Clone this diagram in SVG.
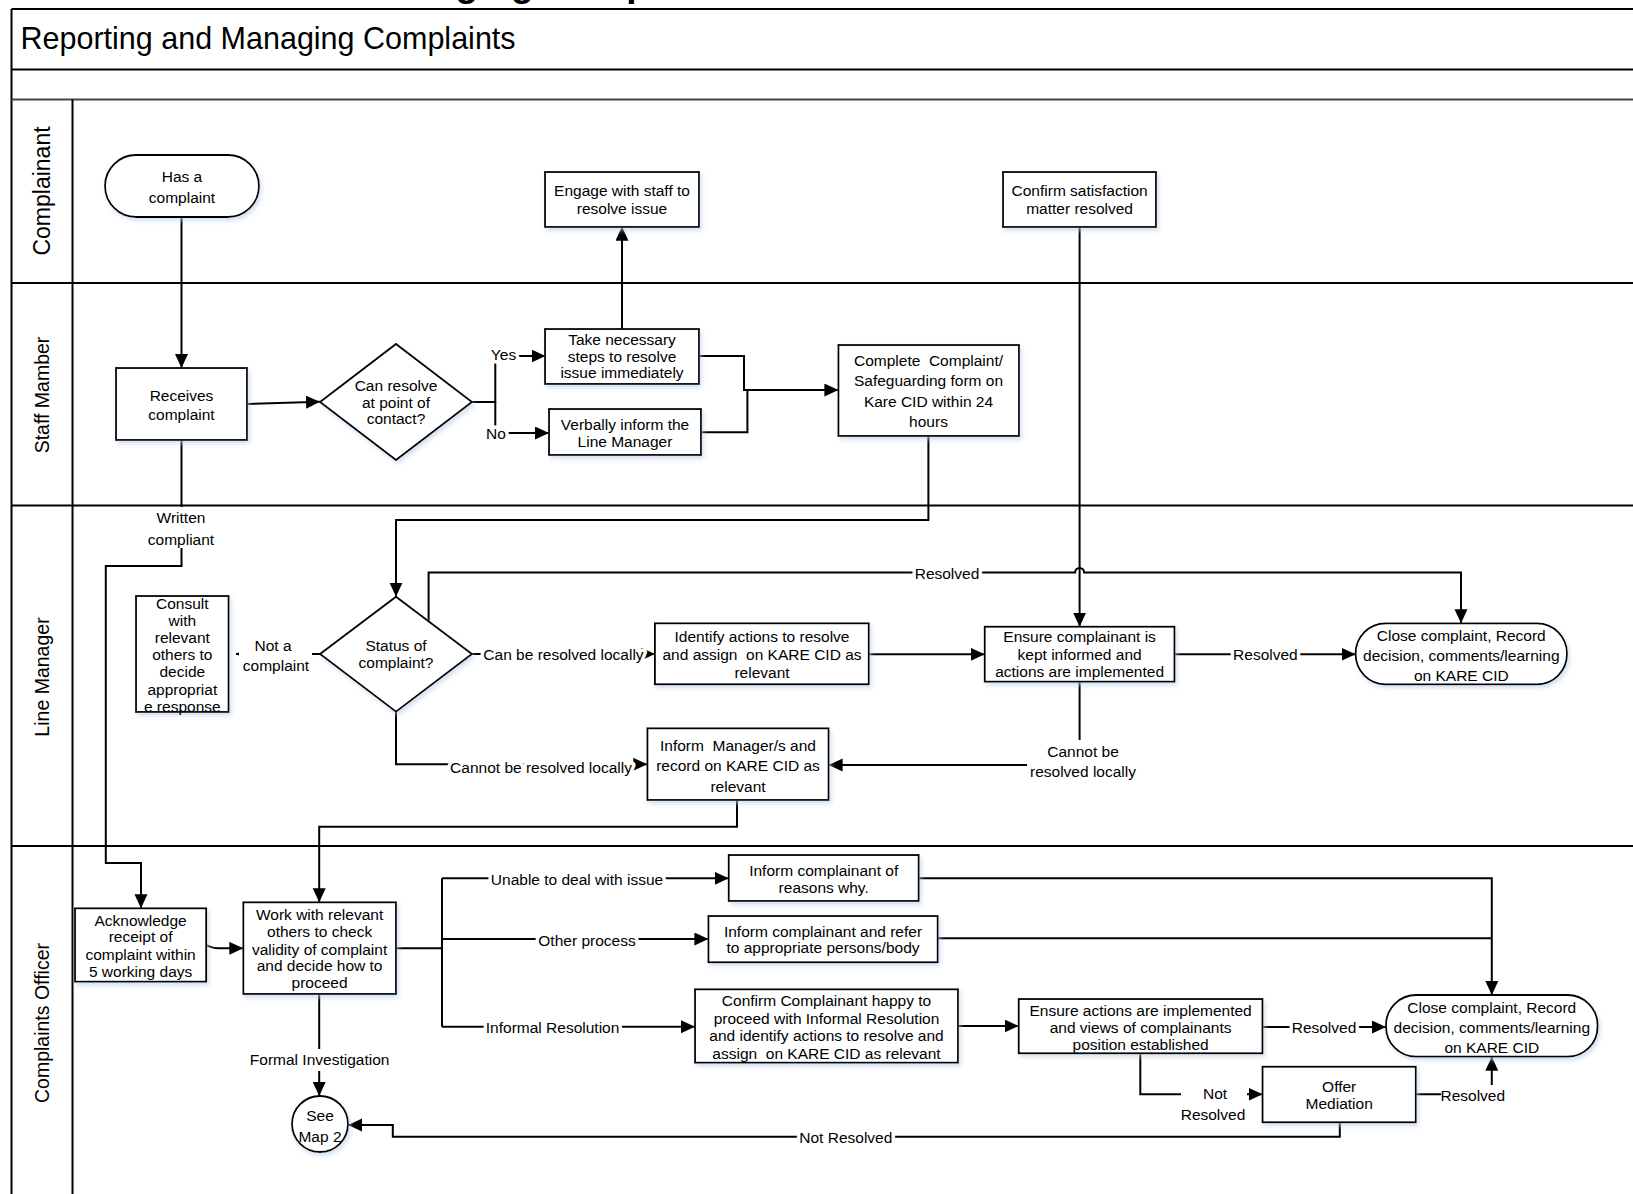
<svg xmlns="http://www.w3.org/2000/svg" width="1633" height="1194" viewBox="0 0 1633 1194">
<defs>
<style>
.n{fill:#fff;stroke:#000;stroke-width:1.8;filter:url(#sh)}
.t{font-family:"Liberation Sans",Arial,sans-serif;font-size:15.5px;text-anchor:middle;dominant-baseline:central;fill:#000}
.lt{font-family:"Liberation Sans",Arial,sans-serif;font-size:19.5px;text-anchor:middle;dominant-baseline:central;fill:#000}
.c{fill:none;stroke:#000;stroke-width:2}
.a{marker-end:url(#arr)}
.h{paint-order:stroke;stroke:#fff;stroke-width:7px;stroke-linejoin:round}
.bg{fill:#fff;stroke:none}
.ln{stroke:#000;stroke-width:2;fill:none}
</style>
<filter id="sh" x="-10%" y="-10%" width="130%" height="140%">
<feDropShadow dx="2" dy="3" stdDeviation="2" flood-color="#b9cde5" flood-opacity="0.6"/>
</filter>
<marker id="arr" markerUnits="userSpaceOnUse" markerWidth="15" markerHeight="14" refX="14" refY="6.5" orient="auto">
<path d="M0,0 L14,6.5 L0,13 z" fill="#000"/>
</marker>
<marker id="arrS" markerUnits="userSpaceOnUse" markerWidth="9" markerHeight="10" refX="8" refY="4.5" orient="auto">
<path d="M0,0 L8,4.5 L0,9 z" fill="#000"/>
</marker>
</defs>
<rect x="0" y="0" width="1633" height="1194" fill="#fff"/>

<text x="361" y="-4.3" style="font-family:'Liberation Sans',Arial,sans-serif;font-size:37px;font-weight:bold">Managing Complaints</text>

<g id="frame">
<line class="ln" x1="11.5" y1="9" x2="1633" y2="9"/>
<line class="ln" x1="11.5" y1="9" x2="11.5" y2="1194"/>
<line class="ln" x1="11.5" y1="69.5" x2="1633" y2="69.5"/>
<line x1="11.5" y1="99.5" x2="1633" y2="99.5" stroke="#444" stroke-width="2.2"/>
<line class="ln" x1="72.5" y1="99.5" x2="72.5" y2="1194"/>
<line class="ln" x1="11.5" y1="283" x2="1633" y2="283"/>
<line class="ln" x1="11.5" y1="505.5" x2="1633" y2="505.5"/>
<line class="ln" x1="11.5" y1="846" x2="1633" y2="846"/>
<text x="20.5" y="49" style="font-family:'Liberation Sans',Arial,sans-serif;font-size:30.5px" fill="#000">Reporting and Managing Complaints</text>
<text class="lt" transform="translate(41.5,191) rotate(-90)" style="font-size:23px">Complainant</text>
<text class="lt" transform="translate(41.5,395) rotate(-90)">Staff Mamber</text>
<text class="lt" transform="translate(42,677) rotate(-90)">Line Manager</text>
<text class="lt" transform="translate(42,1023) rotate(-90)">Complaints Officer</text>
</g>

<g id="connectors">
<path class="c a" d="M181.5,216.7 L181.5,368"/>
<path class="c a" d="M246.6,404 L320,401.7"/>
<path class="c a" d="M472,402 L495.3,402 L495.3,356 L545.5,356"/>
<path class="c a" d="M495.3,402 L495.3,433 L549,433"/>
<path class="c a" d="M622,329 L622,226.7"/>
<path class="c a" d="M698.8,356 L744,356 L744,390 L838.4,390"/>
<path class="c" d="M701.4,432.3 L747.4,432.3 L747.4,390"/>
<path class="c a" d="M928.4,436 L928.4,520 L396,520 L396,596.7"/>
<path class="c a" d="M181.5,440 L181.5,566 L105.8,566 L105.8,863 L141,863 L141,908.3"/>
<path class="c" d="M320,654 L236,654" style="marker-end:url(#arrS)"/>
<path class="c a" d="M472,654 L654.9,654"/>
<path class="c a" d="M1079.6,226.7 L1079.6,626.7"/>
<path class="c a" d="M428.6,621.2 L428.6,572.5 L1075.1,572.5 A4.5,4.5 0 0 1 1084.1,572.5 L1461,572.5 L1461,623.3"/>
<path class="c a" d="M868.8,654.3 L984.7,654.3"/>
<path class="c a" d="M1174.5,654.3 L1355.6,654.3"/>
<path class="c a" d="M1079.6,681.7 L1079.6,765 L828.6,765"/>
<path class="c a" d="M396,711.7 L396,764.3 L647.3,764.3"/>
<path class="c a" d="M737,800 L737,826.7 L319.2,826.7 L319.2,902.3"/>
<path class="c a" d="M206.2,945 Q212,948.3 219,948.3 L243.3,948.3"/>
<path class="c" d="M396,948.3 L442,948.3"/>
<path class="c" d="M442,878.3 L442,1026.7"/>
<path class="c a" d="M442,878.3 L728.7,878.3"/>
<path class="c a" d="M442,939 L708.4,939"/>
<path class="c a" d="M442,1026.7 L695,1026.7"/>
<path class="c a" d="M319.2,994 L319.2,1096"/>
<path class="c a" d="M918.7,878.3 L1491.8,878.3 L1491.8,995"/>
<path class="c" d="M937.7,938.3 L1491.8,938.3"/>
<path class="c a" d="M958,1026 L1018.7,1026"/>
<path class="c a" d="M1262.5,1027 L1386,1027"/>
<path class="c a" d="M1140.3,1053.3 L1140.3,1094.3 L1262.5,1094.3"/>
<path class="c a" d="M1415.8,1094.3 L1491.8,1094.3 L1491.8,1056.7"/>
<path class="c a" d="M1339.8,1122.3 L1339.8,1136.7 L392.8,1136.7 L392.8,1125 L348.2,1125"/>

<text class="t h" x="503.5" y="354.5">Yes</text>
<text class="t h" x="496" y="433">No</text>
<rect class="bg" x="146" y="507" width="71" height="41"/>
<text class="t" x="181" y="517.7">Written</text>
<text class="t" x="181" y="539">compliant</text>
<rect class="bg" x="239" y="635" width="73" height="42"/>
<text class="t" x="273" y="645">Not a</text>
<text class="t" x="276" y="665.7">complaint</text>
<text class="t h" x="563.5" y="654">Can be resolved locally</text>
<text class="t h" x="947" y="573">Resolved</text>
<text class="t h" x="1265.4" y="654.3">Resolved</text>
<rect class="bg" x="1027" y="740" width="112" height="42"/>
<text class="t" x="1083" y="751">Cannot be</text>
<text class="t" x="1083" y="771.7">resolved locally</text>
<text class="t h" x="541" y="767">Cannot be resolved locally</text>
<text class="t h" x="577" y="879">Unable to deal with issue</text>
<text class="t h" x="587" y="940">Other process</text>
<text class="t h" x="552.6" y="1027">Informal Resolution</text>
<rect class="bg" x="248" y="1049" width="143" height="22"/>
<text class="t" x="319.6" y="1059.5">Formal Investigation</text>
<text class="t h" x="1324" y="1027.5">Resolved</text>
<rect class="bg" x="1181" y="1082" width="66" height="43"/>
<text class="t" x="1215" y="1093.3">Not</text>
<text class="t" x="1213" y="1114">Resolved</text>
<rect class="bg" x="1441" y="1085" width="64" height="21"/>
<text class="t" x="1472.8" y="1095.7">Resolved</text>
<text class="t h" x="845.8" y="1137.5">Not Resolved</text>
</g>

<g id="n-has-complaint">
<rect class="n" x="105" y="155" width="154" height="62" rx="31" ry="31"/>
<text class="t" x="182" y="176">Has a</text>
<text class="t" x="182" y="197">complaint</text>
</g>
<g id="n-receives">
<rect class="n" x="116" y="368" width="131" height="72"/>
<text class="t" x="181.5" y="395">Receives</text>
<text class="t" x="181.5" y="414">complaint</text>
</g>
<g id="n-can-resolve">
<polygon class="n" points="320,402 396,344 472,402 396,460"/>
<text class="t" x="396" y="385">Can resolve</text>
<text class="t" x="396" y="402">at point of</text>
<text class="t" x="396" y="418.5">contact?</text>
</g>
<g id="n-take-steps">
<rect class="n" x="545" y="329" width="154" height="55"/>
<text class="t" x="622" y="339.5">Take necessary</text>
<text class="t" x="622" y="356">steps to resolve</text>
<text class="t" x="622" y="372.5">issue immediately</text>
</g>
<g id="n-verbally">
<rect class="n" x="549" y="409" width="152" height="46"/>
<text class="t" x="625" y="424">Verbally inform the</text>
<text class="t" x="625" y="441.7">Line Manager</text>
</g>
<g id="n-engage">
<rect class="n" x="545" y="172" width="154" height="55"/>
<text class="t" x="622" y="190">Engage with staff to</text>
<text class="t" x="622" y="208">resolve issue</text>
</g>
<g id="n-complete-form">
<rect class="n" x="838.4" y="345" width="180.6" height="91"/>
<text class="t" x="928.5" y="360" xml:space="preserve">Complete  Complaint/</text>
<text class="t" x="928.5" y="380.7">Safeguarding form on</text>
<text class="t" x="928.5" y="401.2">Kare CID within 24</text>
<text class="t" x="928.5" y="421.7">hours</text>
</g>
<g id="n-confirm-satisfaction">
<rect class="n" x="1003" y="172" width="153" height="55"/>
<text class="t" x="1079.6" y="190">Confirm satisfaction</text>
<text class="t" x="1079.6" y="208">matter resolved</text>
</g>
<g id="n-status">
<polygon class="n" points="320,654 396,596.7 472,654 396,711.7"/>
<text class="t" x="396" y="645.7">Status of</text>
<text class="t" x="396" y="662.7">complaint?</text>
</g>
<g id="n-consult">
<rect class="n" x="136" y="596" width="92.6" height="116"/>
<text class="t" x="182.3" y="603">Consult</text>
<text class="t" x="182.3" y="620.2">with</text>
<text class="t" x="182.3" y="637.4">relevant</text>
<text class="t" x="182.3" y="654.6">others to</text>
<text class="t" x="182.3" y="671.8">decide</text>
<text class="t" x="182.3" y="689">appropriat</text>
<text class="t" x="182.3" y="706.2">e response</text>
</g>
<g id="n-identify">
<rect class="n" x="654.9" y="623.3" width="213.9" height="61"/>
<text class="t" x="762" y="636.7">Identify actions to resolve</text>
<text class="t" x="762" y="654.3" xml:space="preserve">and assign  on KARE CID as</text>
<text class="t" x="762" y="672">relevant</text>
</g>
<g id="n-ensure-informed">
<rect class="n" x="984.7" y="626.7" width="189.8" height="55"/>
<text class="t" x="1079.6" y="636.7">Ensure complainant is</text>
<text class="t" x="1079.6" y="654">kept informed and</text>
<text class="t" x="1079.6" y="671.7">actions are implemented</text>
</g>
<g id="n-close-1">
<rect class="n" x="1355.6" y="623.3" width="211.4" height="61" rx="30" ry="30"/>
<text class="t" x="1461.3" y="635">Close complaint, Record</text>
<text class="t" x="1461.3" y="655">decision, comments/learning</text>
<text class="t" x="1461.3" y="675">on KARE CID</text>
</g>
<g id="n-inform-manager">
<rect class="n" x="647.4" y="728.3" width="181.2" height="71.7"/>
<text class="t" x="738" y="745" xml:space="preserve">Inform  Manager/s and</text>
<text class="t" x="738" y="765.7">record on KARE CID as</text>
<text class="t" x="738" y="786">relevant</text>
</g>
<g id="n-acknowledge">
<rect class="n" x="75" y="908.3" width="131.2" height="73.4"/>
<text class="t" x="140.6" y="920">Acknowledge</text>
<text class="t" x="140.6" y="936.7">receipt of</text>
<text class="t" x="140.6" y="954">complaint within</text>
<text class="t" x="140.6" y="971.7">5 working days</text>
</g>
<g id="n-work-with">
<rect class="n" x="243.3" y="902.3" width="152.7" height="91.7"/>
<text class="t" x="319.6" y="914">Work with relevant</text>
<text class="t" x="319.6" y="931.7">others to check</text>
<text class="t" x="319.6" y="949">validity of complaint</text>
<text class="t" x="319.6" y="965.7">and decide how to</text>
<text class="t" x="319.6" y="982.7">proceed</text>
</g>
<g id="n-inform-reasons">
<rect class="n" x="728.7" y="855" width="190" height="46"/>
<text class="t" x="823.7" y="870">Inform complainant of</text>
<text class="t" x="823.7" y="887.3">reasons why.</text>
</g>
<g id="n-inform-refer">
<rect class="n" x="708.4" y="916" width="229.3" height="46.3"/>
<text class="t" x="823" y="931">Inform complainant and refer</text>
<text class="t" x="823" y="947.7">to appropriate persons/body</text>
</g>
<g id="n-confirm-happy">
<rect class="n" x="695" y="989.3" width="263" height="73.4"/>
<text class="t" x="826.5" y="1000.7">Confirm Complainant happy to</text>
<text class="t" x="826.5" y="1018.3">proceed with Informal Resolution</text>
<text class="t" x="826.5" y="1035.7">and identify actions to resolve and</text>
<text class="t" x="826.5" y="1053.3" xml:space="preserve">assign  on KARE CID as relevant</text>
</g>
<g id="n-ensure-actions">
<rect class="n" x="1018.7" y="999" width="243.8" height="54.3"/>
<text class="t" x="1140.6" y="1010">Ensure actions are implemented</text>
<text class="t" x="1140.6" y="1027.3">and views of complainants</text>
<text class="t" x="1140.6" y="1044">position established</text>
</g>
<g id="n-close-2">
<rect class="n" x="1386" y="995" width="211.6" height="61.7" rx="30" ry="30"/>
<text class="t" x="1491.8" y="1007.5">Close complaint, Record</text>
<text class="t" x="1491.8" y="1027.5">decision, comments/learning</text>
<text class="t" x="1491.8" y="1047.5">on KARE CID</text>
</g>
<g id="n-offer-mediation">
<rect class="n" x="1262.5" y="1066.7" width="153.3" height="55.6"/>
<text class="t" x="1339.2" y="1086.7">Offer</text>
<text class="t" x="1339.2" y="1103.3">Mediation</text>
</g>
<g id="n-see-map-2">
<circle class="n" cx="320" cy="1124" r="28"/>
<text class="t" x="320" y="1115">See</text>
<text class="t" x="320" y="1136.7">Map 2</text>
</g>
</svg>
